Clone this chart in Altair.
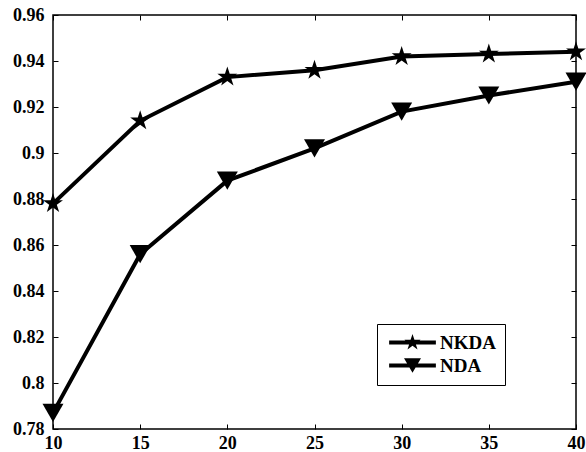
import altair as alt
import pandas as pd

# ---- data ----
x_values = [10, 15, 20, 25, 30, 35, 40]
nkda = [0.878, 0.914, 0.933, 0.936, 0.942, 0.943, 0.944]
nda = [0.787, 0.856, 0.888, 0.902, 0.918, 0.925, 0.931]
series_names = ["NKDA", "NDA"]
x_ticks = [10, 15, 20, 25, 30, 35, 40]
y_ticks = [0.78, 0.80, 0.82, 0.84, 0.86, 0.88, 0.90, 0.92, 0.94, 0.96]

rows = []
for xv, a, b in zip(x_values, nkda, nda):
    rows.append({"x": xv, "value": a, "series": "NKDA"})
    rows.append({"x": xv, "value": b, "series": "NDA"})
df = pd.DataFrame(rows)

# ---- symbol paths ----
STAR = ("M0,-1 L0.2245,-0.309 L0.951,-0.309 L0.363,0.118 L0.588,0.809 "
        "L0,0.382 L-0.588,0.809 L-0.363,0.118 L-0.951,-0.309 L-0.2245,-0.309 Z")
TRI_DOWN = "M0,0.866 L-1,-0.866 L1,-0.866 Z"
BAR = "M-2.75,-0.24 L2.75,-0.24 L2.75,0.24 L-2.75,0.24 Z "
STAR_LEG = BAR + STAR
TRI_LEG = BAR + TRI_DOWN

FONT = "Liberation Serif"
x_dom = [10, 40]
y_dom = [0.78, 0.96]

axis_common = dict(
    domain=False, ticks=True, tickSize=5, tickColor="black", tickWidth=1,
    offset=-5, grid=False, title=None,
    labelFont=FONT, labelFontSize=18, labelFontWeight="bold", labelColor="black",
    labelFlush=False, labelOverlap=False,
)

x_bottom = alt.X("x:Q", scale=alt.Scale(domain=x_dom, nice=False, zero=False),
                 axis=alt.Axis(values=x_ticks, orient="bottom", labelPadding=5, **axis_common))
y_left = alt.Y("value:Q", scale=alt.Scale(domain=y_dom, nice=False, zero=False),
               axis=alt.Axis(values=y_ticks, orient="left", labelPadding=9, format="~g", **axis_common))

lines = alt.Chart(df).mark_line(color="black", strokeWidth=4).encode(
    x=x_bottom, y=y_left, detail="series:N"
)

points = alt.Chart(df).mark_point(filled=True, color="black", size=440, opacity=1).encode(
    x=alt.X("x:Q", scale=alt.Scale(domain=x_dom, nice=False, zero=False), axis=None),
    y=alt.Y("value:Q", scale=alt.Scale(domain=y_dom, nice=False, zero=False), axis=None),
    shape=alt.Shape("series:N", scale=alt.Scale(domain=series_names, range=[STAR, TRI_DOWN]), legend=None),
)

top_right_axis = dict(axis_common)
top_right_axis["labels"] = False

legend_layer = alt.Chart(df).transform_filter("datum.x < 0").mark_point(
    filled=True, color="black", size=289, opacity=1
).encode(
    x=alt.X("x:Q", scale=alt.Scale(domain=x_dom, nice=False, zero=False),
            axis=alt.Axis(values=x_ticks, orient="top", **top_right_axis)),
    y=alt.Y("value:Q", scale=alt.Scale(domain=y_dom, nice=False, zero=False),
            axis=alt.Axis(values=y_ticks, orient="right", **top_right_axis)),
    shape=alt.Shape("series:N", scale=alt.Scale(domain=series_names, range=[STAR_LEG, TRI_LEG]),
                    legend=alt.Legend(
                        title=None, orient="none", legendX=324, legendY=309,
                        strokeColor="black", fillColor="white", padding=9,
                        symbolOffset=17, labelOffset=18, rowPadding=3,
                        symbolSize=289, symbolFillColor="black", symbolStrokeColor="black",
                        symbolStrokeWidth=0.5, symbolOpacity=1,
                        labelFont=FONT, labelFontSize=19, labelFontWeight="bold",
                        labelColor="black",
                    )),
)

chart = alt.layer(lines, points, legend_layer).resolve_scale(
    x="independent", y="independent", shape="independent"
).resolve_legend(shape="independent").properties(
    width=523, height=414,
    padding={"left": 53, "top": 15, "right": 10, "bottom": 23},
    autosize=alt.AutoSizeParams(type="none"),
    background="white",
).configure_view(stroke="black", strokeWidth=1.5)

chart.save("out.html", embed_options={"renderer": "svg", "actions": False})
